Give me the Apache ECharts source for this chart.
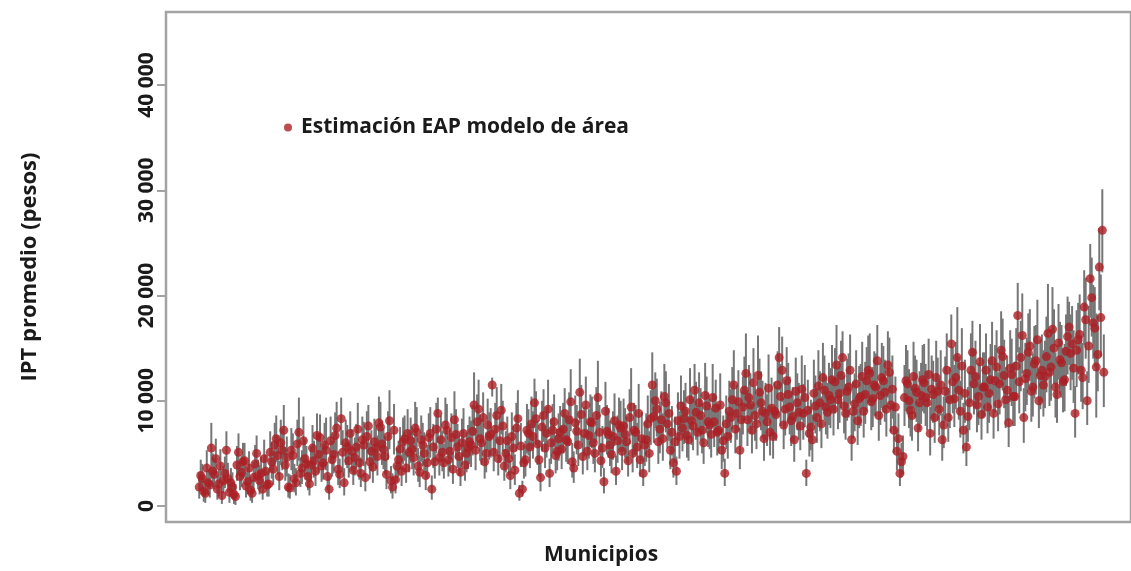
<!DOCTYPE html>
<html><head><meta charset="utf-8">
<script src="https://cdn.jsdelivr.net/npm/echarts@6/dist/echarts.min.js"></script>
<style>html,body{margin:0;padding:0;background:#fff}#c{width:1131px;height:571px}</style>
</head><body><div id="c"></div>
<script>
const yTicks=[0,10000,20000,30000,40000];
const seriesName='Estimación EAP modelo de área';
const xTitle='Municipios';
const yTitle='IPT promedio (pesos)';
// first set of municipalities (positions 0,1,2,...)
const est=[
1800,2600,1200,2200,5500,3000,1600,3800,2400,5300,
1300,1800,900,5100,3200,4300,2300,1500,2700,5000,
2400,1600,3300,2100,4200,5800,4800,6000,7200,4600,
1700,4800,2200,7000,3600,4500,2800,3900,4300,6700,
6500,4100,5300,1600,4400,6700,3500,8300,2200,5600,
6900,3400,5600,4100,6300,2700,7600,5200,6100,4700,
7500,5400,3000,8100,1800,2500,4400,3300,6400,6900,
6200,4600,7000,3200,5800,2900,6500,1600,4200,8800,
6300,4100,7200,5200,3500,6800,4700,6000,3900,5500,
5800,9600,8000,6400,8400,5000,6600,11500,7300,4500,
9100,3800,6200,2900,5500,7400,1200,1600,4400,6900,
7800,9800,5900,2700,8600,6900,3100,7200,4800,6400,
5400,8800,6100,9900,3600,7100,10800,4700,9600,6700,
7900,5000,10300,4300,2300,7100,5800,6600,3300,7700,
5200,6800,4300,9400,7200,5600,4400,3100,6300,5000,
11500,10000,6100,8200,10400,7800,5300,4100,3300,6600,
7400,9000,6300,8100,11000,7000,8600,6000,9500,7700,
10300,9300,7200,5300,3100,6600,8400,11500,8800,5300,
9400,12600,10300,7200,8600,12400,9800,6400,8000,7000,
6600,8700,14100,12900,9200,10600,8100,6300,9800,7600,
8800,3100,6900,6300,9500,11400,7800,11000,8900,10100,
9200,13400,10700,14100,8800,11300,6300,9700,8100,10400,
9000,11900,12600,10200,11300,8600,12200,10800,13400,9600,
7200,5200,3100,4700,11900,10000,8600,11200,7400,10500,
11700,9800,6900,10600,12200,9200,6300,10900,8400,15400,
10200,14100,9000,7200,5600,9800,14600,12300,10400,8700,
11300,9400,12000,8800,13200,11600,14200,10100,7900,12500,
10400,18100,14100,8400,12600,15200,11300,13800,10000,12900,
12300,16400,13200,15000,10600,13900,11800,14700,17000,15400,
8800,15800,12900,18900,10000,21600,17400,13200,22700,26200];
const lo=[
700,1300,300,1000,2600,1600,600,2200,1200,3000,
300,700,100,3200,1800,2700,1100,500,1400,3300,
1100,600,1900,900,2600,3800,3000,3900,4700,2800,
700,3000,1000,4300,2100,2800,1500,2300,2700,4600,
4300,2500,3400,600,2800,4500,2000,5800,1000,3600,
4700,2000,3600,2500,4200,1400,5000,3300,4000,2900,
5100,3500,1600,5400,700,1200,2800,1900,4300,4600,
4100,2900,4700,1800,3800,1500,4300,600,2600,6000,
4200,2600,4900,3300,2100,4500,2900,3900,2400,3500,
3700,6700,5500,4300,5900,3200,4400,10400,4900,2900,
6800,2400,4200,1600,3600,5200,500,900,2800,4800,
5400,7400,3900,1400,6100,4600,1800,5000,3100,4300,
3500,6300,4000,7100,2200,4900,7900,3000,7000,4500,
5500,3200,7400,2800,1200,4900,3800,4400,2000,5300,
3400,4600,2800,6700,4900,3600,2800,1900,4200,3200,
8700,7400,4000,5900,7600,5500,3500,2700,2000,4500,
5200,6500,4300,5800,8200,4800,6200,4000,6900,5400,
7500,6700,5000,3500,1900,4500,6000,8700,6300,3500,
6800,9400,7500,5000,6200,9300,7200,4300,5700,4800,
4500,6200,11000,9900,6700,7900,5700,4200,7200,5300,
6300,1900,4700,4200,6900,8500,5500,8100,6400,7400,
6700,10200,7900,11000,6300,8400,4300,7100,5800,7600,
6500,9000,9600,7500,8500,6200,9300,8000,10300,7000,
5000,3400,1900,3000,9000,7400,6200,8400,5200,7800,
8800,7200,4800,7900,9300,6700,4300,8100,6100,12200,
7500,10800,6500,5000,3800,7200,11200,9300,7700,6300,
8500,6900,9100,6400,10100,8700,11000,7400,5600,9500,
7600,14600,10900,6000,9600,11900,8500,10600,7400,9900,
9300,12900,10000,11600,7900,10700,8900,11400,13400,12000,
6500,12500,9900,15300,7700,17900,14000,8400,18600,22200];
const hi=[
3200,4000,2400,3500,7900,4600,2900,5400,3800,7100,
2600,3200,2100,6900,4800,6000,3700,2800,4200,6700,
3900,2900,4900,3500,6100,7900,6700,8200,9600,6600,
3000,6900,3600,10300,5300,6400,4300,5700,6200,8800,
8700,5900,8400,2900,6200,8900,5200,10300,3600,7700,
9000,5000,7800,5900,8500,4200,9600,7200,8300,6700,
9900,7400,4500,11000,3100,3900,6200,4900,8600,9200,
8400,6500,9400,4800,7900,4400,8800,2900,6000,10300,
8600,5900,9700,7300,5100,9200,6700,8300,5600,7700,
8100,12700,10600,8700,10800,7000,8900,12200,9800,6400,
11600,5400,8500,4300,7600,9800,2000,2400,6200,9200,
10400,12100,8100,4100,11100,9400,4500,9700,6700,8800,
7600,11200,8500,13000,5200,9600,14000,6700,12300,9200,
10400,7000,13800,6000,3600,9600,8100,9000,4800,10300,
7400,9300,6000,13100,9800,7900,6200,4500,8800,7100,
14600,12700,8500,10900,13500,10300,7400,5700,4700,9000,
9900,11700,8600,10700,13500,9500,11200,8300,12300,10200,
13500,12000,9700,7400,4500,9000,11100,14800,11500,7400,
12300,16400,13400,9700,11300,16200,12800,8800,10600,9500,
9000,11400,17000,16100,12000,13600,10800,8700,12600,10200,
11600,4400,9400,8700,12400,14800,10400,14300,11700,13100,
12100,17200,13800,16600,11600,14500,8800,12600,10700,13500,
11900,15100,16400,13200,14500,11400,15500,13900,16600,12500,
9700,7300,4500,6700,15300,13000,11400,14300,9900,13600,
15400,12800,9400,13800,15700,12100,8800,14200,11200,18200,
13400,18900,11900,9800,7700,12800,17600,15700,13600,11500,
14600,12300,15400,11600,16700,14900,17800,13200,10500,15900,
13700,21200,17600,11200,16000,18700,14500,17200,13000,16300,
15700,21100,16800,18700,13700,17500,15000,18200,19400,19000,
11400,19300,16200,22400,12800,24900,21000,18300,26400,30100];
// second set of municipalities (positions 0.5,1.5,2.5,...)
const estB=[
2900,1400,3600,2000,3300,4500,2100,1000,3100,2600,
2200,1100,3900,2800,4200,1900,3600,1200,4000,2900,
3100,4500,2000,5100,3500,6400,2800,5300,3900,1800,
5300,2600,5900,3100,6200,4000,2100,5500,3300,4900,
3800,5800,2800,6200,4900,7400,3000,5100,6000,4300,
5200,4600,7300,3100,5800,6600,4200,3700,5500,7900,
5900,4700,6600,2400,7200,3800,5400,6100,3600,5100,
5400,7400,3800,6300,5000,4100,6900,5600,7300,4600,
5100,7700,4400,6500,8200,5600,3200,6900,5000,6100,
7100,5300,9200,6000,4200,7700,6800,5100,8600,6200,
7600,5000,4500,6600,3400,8300,5700,4100,7200,5600,
6600,8300,4400,7500,5500,9200,6000,8000,5200,7000,
7300,6300,8200,4200,7900,5800,8700,6900,5200,8000,
6000,8600,7000,5500,9000,6800,4900,8100,6200,7400,
7600,6100,8400,5000,7000,8800,6400,5800,7800,8300,
8500,9200,7300,6400,9800,8800,7000,6100,8100,9500,
8300,6700,10100,7600,8900,9800,7200,10500,8000,6800,
8000,7000,9600,6200,7800,9000,10100,7300,9900,8200,
11000,8200,9600,11700,7800,10800,9000,8800,11200,9300,
9000,11500,10400,7700,11900,9400,8500,10900,8900,11100,
10300,9100,7500,10700,8400,9800,12200,9400,10500,12000,
11800,10100,12400,9500,10900,12900,9000,11600,10200,12300,
10600,12900,9900,11500,13800,10500,11900,9200,12700,11100,
9400,6400,4200,10300,11600,9100,12300,10800,9800,12000,
10300,12500,11100,8400,10900,11500,7700,12900,10100,11800,
12200,11000,13300,10700,8500,12900,11600,9600,13700,11300,
12900,10700,13800,11900,9700,14800,12400,11000,13100,10400,
13300,11800,16200,12100,14600,10900,13500,15800,12400,11500,
14200,12700,16800,11300,15500,13600,12000,16100,14500,13100,
14800,16300,12200,17700,15200,19800,16900,14400,17900,12700];
const loB=[
1500,400,2100,800,1800,2800,900,200,1700,1300,
1000,200,2400,1500,2600,800,2100,300,2400,1600,
1700,2900,900,3300,2000,4200,1500,3400,2400,800,
3400,1300,3800,1800,4100,2500,1000,3500,1900,3100,
2300,3800,1500,4100,3100,5000,1700,3200,3900,2700,
3300,2900,5000,1800,3800,4400,2600,2200,3500,5500,
3900,3000,4400,1200,4900,2300,3500,4000,2200,3200,
3500,5100,2300,4200,3200,2600,4600,3600,5000,2900,
3300,5300,2800,4400,5700,3600,1900,4700,3200,4000,
4800,3400,6500,3900,2600,5300,4600,3300,6000,4100,
5200,3200,2900,4500,2000,5800,3700,2600,5000,3600,
4500,5800,2800,5200,3600,6600,4000,5600,3400,4800,
5000,4200,5700,2700,5500,3800,6100,4700,3400,5600,
4000,6100,4800,3600,6400,4600,3100,5700,4100,5100,
5200,4100,5900,3200,4800,6200,4300,3800,5400,5800,
6000,6600,5000,4300,7000,6200,4800,4100,5700,6800,
5900,4600,7300,5300,6300,7000,5000,7600,5600,4600,
5600,4800,6900,4200,5400,6400,7300,5000,7100,5700,
8100,5700,6900,8700,5400,7900,6400,6300,8300,6700,
6400,8500,7600,5400,8900,6800,6100,8000,6300,8200,
7500,6500,5300,7800,6000,7100,9100,6800,7700,9000,
8800,7300,9300,6900,8100,9700,6400,8600,7400,9200,
7800,9800,7200,8600,10600,7700,8900,6600,9600,8300,
6800,4400,2700,7600,8700,6600,9300,8000,7200,9000,
7600,9500,8300,6000,8100,8600,5500,9800,7400,8800,
9200,8200,10100,7900,6100,9800,8700,7000,10500,8400,
9800,7900,10600,8900,7100,11400,9300,8100,9900,7600,
10000,8800,12600,9000,11200,8000,10200,12300,9200,8500,
10800,9500,13000,8400,12000,10300,9000,12500,11000,9800,
11300,12700,9200,14000,11700,16100,13200,10900,14200,9400];
const hiB=[
4400,2700,5300,3400,5000,6400,3500,2200,4700,4100,
3600,2300,5700,4300,6000,3200,5200,2500,5800,4400,
4700,6300,3300,7100,5200,8600,4300,7400,5600,3100,
7400,4000,8200,4600,8500,5700,3500,7700,4900,6900,
5500,7900,4200,8500,6900,9900,4500,7200,8200,6100,
7300,6500,9800,4600,8000,9000,6000,5400,7700,10400,
8100,6600,9000,3800,9700,5500,7500,8400,5200,7200,
7500,9900,5500,8600,7000,5800,9400,7800,9800,6500,
7100,10300,6200,8800,10900,7800,4700,9300,7000,8500,
9600,7400,12000,8300,6000,10200,9300,7200,11300,8600,
10000,7100,6300,8900,4900,11000,7900,5800,9700,7800,
9000,10900,6200,10000,7600,12000,8300,10600,7300,9500,
9800,8700,10800,6000,10500,8100,11500,9400,7300,10600,
8400,11300,9600,7600,11800,9300,6900,10700,8600,10000,
10200,8500,11100,7000,9600,11600,8900,8000,10500,11000,
11200,12100,9900,8800,12800,11600,9500,8500,10800,12400,
11000,9200,13100,10200,11800,12700,9800,13600,10700,9300,
10700,9600,12600,8600,10500,11900,13200,9900,12900,10900,
14200,11000,12600,15000,10500,14000,11900,11700,14400,12200,
11800,14700,13500,10300,15100,12300,11300,14100,11700,14300,
13400,12000,10100,13900,11200,12800,15500,12300,13600,15300,
15000,13200,15700,12400,14000,16300,11800,14800,13300,15600,
13700,16200,12900,14700,17200,13600,15200,12100,16000,14300,
12300,8800,6000,13400,14800,12000,15600,13900,12800,15300,
13500,15900,14300,11200,14100,14800,10400,16400,13200,15100,
15600,14200,16900,13900,11300,16400,14900,12600,17300,14600,
16400,13900,17500,15300,12700,18500,15800,14300,16700,13600,
16900,15100,20200,15500,18300,14100,17100,19600,15800,14800,
18000,16200,20800,14600,19200,17200,15400,19900,18200,16700,
18600,20100,15500,21700,19000,23600,20800,18100,22000,16300];

const chart=echarts.init(document.getElementById('c'),null,{renderer:'canvas'});
const barData=est.map((_,i)=>[i,lo[i],hi[i]]).concat(estB.map((_,i)=>[i+0.5,loB[i],hiB[i]]));
const ptData=est.map((v,i)=>[i,v]).concat(estB.map((v,i)=>[i+0.5,v]));
const fmt=v=>String(v).replace(/\B(?=(\d{3})+(?!\d))/g,' ');
const font='Open Sans';
chart.setOption({
  animation:false,
  grid:{left:166,right:-4,top:12,bottom:49,show:true,borderColor:'#a3a3a3',borderWidth:2.5,backgroundColor:'#fff'},
  xAxis:{type:'value',min:-11,max:308.5,show:false},
  yAxis:{type:'value',min:-1520,max:46940,
    name:yTitle,nameLocation:'middle',nameRotate:90,nameGap:125,
    nameTextStyle:{fontFamily:font,fontWeight:'bold',fontSize:22,color:'#1a1a1a'},
    axisLine:{show:false,onZero:false},splitLine:{show:false},
    axisTick:{show:true,length:9,lineStyle:{color:'#a3a3a3',width:2},customValues:yTicks},
    axisLabel:{customValues:yTicks,rotate:90,margin:8,fontFamily:font,fontWeight:'bold',fontSize:21,color:'#1a1a1a',formatter:fmt}},
  legend:{left:279,top:112,icon:'circle',itemWidth:8,itemHeight:8,
    textStyle:{fontFamily:font,fontWeight:'bold',fontSize:21,color:'#1a1a1a',padding:[0,0,0,4]},data:[seriesName]},
  graphic:[{type:'text',x:601,y:555,style:{text:xTitle,align:'center',verticalAlign:'middle',fontFamily:font,fontWeight:'bold',fontSize:21,fill:'#1a1a1a'}}],
  series:[
    {type:'custom',silent:true,z:1,data:barData,encode:{x:0,y:[1,2]},
     renderItem:(params,api)=>{const x=api.value(0);const a=api.coord([x,api.value(1)]);const b=api.coord([x,api.value(2)]);
       return {type:'line',shape:{x1:a[0],y1:a[1],x2:b[0],y2:b[1]},style:{stroke:'#767676',lineWidth:2}};}},
    {type:'scatter',name:seriesName,data:ptData,symbolSize:9,itemStyle:{color:'#ad1f24'},z:3}
  ]
});
</script></body></html>
